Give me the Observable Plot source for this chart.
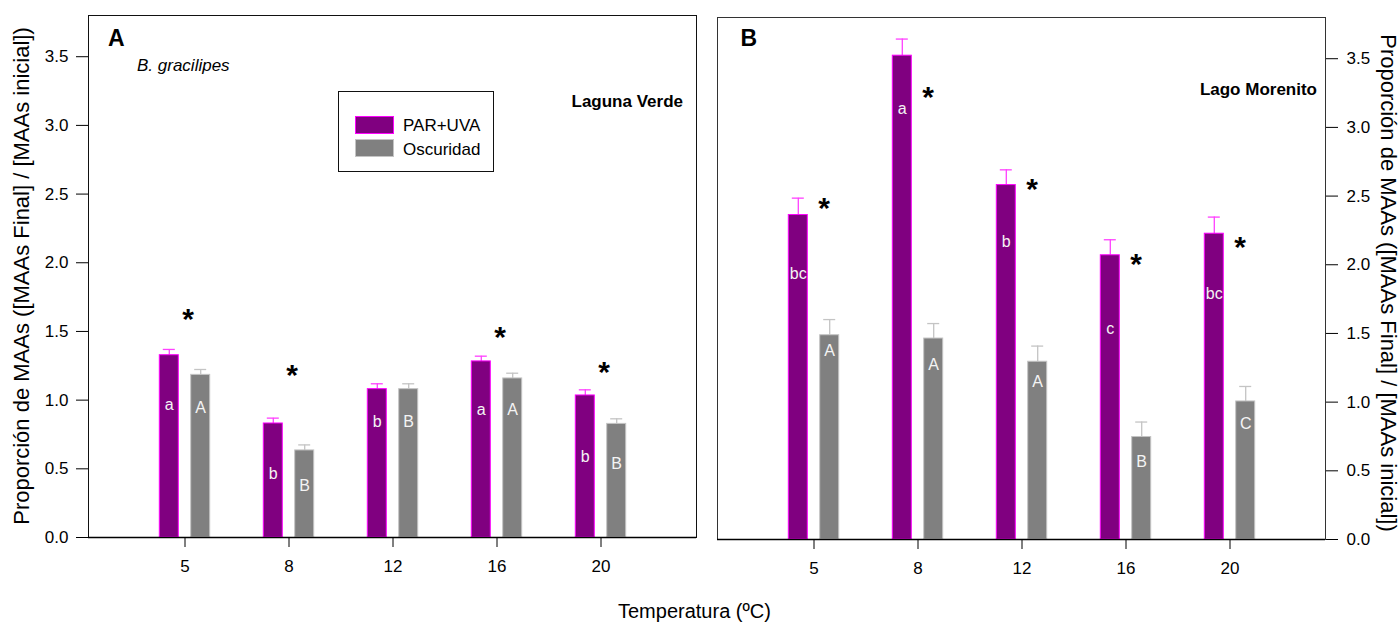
<!DOCTYPE html>
<html><head><meta charset="utf-8">
<script src="https://cdn.jsdelivr.net/npm/d3@7"></script>
<script src="https://cdn.jsdelivr.net/npm/@observablehq/plot@0.6"></script>
<style>
body{margin:0;background:#fff;}
#wrap{position:relative;width:1399px;height:624px;overflow:hidden;font-family:"Liberation Sans",Arial,sans-serif;color:#000;background:#fff;}
.t{position:absolute;white-space:nowrap;line-height:1;}
#wrap svg{position:absolute;top:0;overflow:visible;}
.sw{position:absolute;box-sizing:border-box;}
</style></head><body><div id="wrap"></div>
<script>
// ---- data ----
const temps = ["5", "8", "12", "16", "20"];
const yTicks = [0, 0.5, 1, 1.5, 2, 2.5, 3, 3.5];
const seriesNames = ["PAR+UVA", "Oscuridad"];

// Panel A – Laguna Verde
const parA = [1.327, 0.83, 1.08, 1.282, 1.034];
const parAErr = [0.042, 0.039, 0.039, 0.038, 0.041];
const parALetters = ["a", "b", "b", "a", "b"];
const parALabelY = [0.963, 0.466, 0.845, 0.927, 0.587];
const oscA = [1.184, 0.634, 1.08, 1.158, 0.827];
const oscAErr = [0.039, 0.04, 0.039, 0.038, 0.037];
const oscALetters = ["A", "B", "B", "A", "B"];
const oscALabelY = [0.947, 0.379, 0.845, 0.927, 0.539];
const starsATemps = ["5", "8", "16", "20"];
const starsAY = [1.636, 1.228, 1.51, 1.252];

// Panel B – Lago Morenito
const parB = [2.362, 3.522, 2.58, 2.069, 2.226];
const parBErr = [0.123, 0.121, 0.111, 0.113, 0.121];
const parBLetters = ["bc", "a", "b", "c", "bc"];
const parBLabelY = [1.931, 3.137, 2.168, 1.533, 1.786];
const oscB = [1.487, 1.463, 1.294, 0.746, 1.005];
const oscBErr = [0.114, 0.109, 0.114, 0.109, 0.109];
const oscBLetters = ["A", "A", "A", "B", "C"];
const oscBLabelY = [1.374, 1.272, 1.148, 0.562, 0.845];
const starsBTemps = ["5", "8", "12", "16", "20"];
const starsBY = [2.464, 3.27, 2.602, 2.052, 2.178];

// ---- helpers ----
const rows = (vals, errs, letters, labelY) =>
  temps.map((t, i) => ({temp: t, value: vals[i], err: errs[i], letter: letters[i], labelY: labelY[i]}));
const starRows = (ts, ys) => ts.map((t, i) => ({temp: t, y: ys[i]}));

const PURPLE = "#800080", MAGENTA = "#ff00ff", ERRP = "#ff40ff";
const GRAY = "#808080", LGRAY = "#c4c4c4";
const OFF = 15.7;

function panel({par, osc, stars, width, height, marginLeft, marginRight, marginTop, marginBottom, anchor, frameStroke, starDx, tickPadY}) {
  const top = d => d.value + d.err;
  return Plot.plot({
    width, height, marginLeft, marginRight, marginTop, marginBottom,
    style: {fontFamily: "Liberation Sans, Arial, sans-serif", fontSize: "17px", background: "transparent", overflow: "visible", color: "black"},
    x: {type: "band", domain: temps, paddingInner: 0.819, paddingOuter: 0.809},
    y: {domain: [0, 3.8]},
    marks: [
      Plot.frame({stroke: frameStroke}),
      Plot.ruleX(par, {x: "temp", y1: "value", y2: top, stroke: ERRP, strokeWidth: 1.3, dx: -OFF}),
      Plot.tickY(par, {x: "temp", y: top, stroke: ERRP, strokeWidth: 1.3, dx: -OFF, insetLeft: 3.5, insetRight: 3.5}),
      Plot.ruleX(osc, {x: "temp", y1: "value", y2: top, stroke: LGRAY, strokeWidth: 1.3, dx: OFF}),
      Plot.tickY(osc, {x: "temp", y: top, stroke: LGRAY, strokeWidth: 1.3, dx: OFF, insetLeft: 3.5, insetRight: 3.5}),
      Plot.barY(par, {x: "temp", y: "value", fill: PURPLE, stroke: MAGENTA, strokeWidth: 1, dx: -OFF}),
      Plot.barY(osc, {x: "temp", y: "value", fill: GRAY, stroke: LGRAY, strokeWidth: 1, dx: OFF}),
      Plot.text(par, {x: "temp", y: "labelY", text: "letter", fill: "#f4f4f4", fontSize: 16, dx: -OFF}),
      Plot.text(osc, {x: "temp", y: "labelY", text: "letter", fill: "#f4f4f4", fontSize: 16, dx: OFF}),
      Plot.text(stars, {x: "temp", y: "y", text: () => "*", fontSize: 30, fontWeight: "bold", fill: "black", dx: starDx, dy: 7}),
      Plot.ruleY([0], {stroke: "black", strokeWidth: 1.5}),
      Plot.axisY({anchor, ticks: yTicks, tickFormat: d3.format(".1f"), tickSize: 12, tickPadding: tickPadY, label: null}),
      Plot.axisX({tickSize: 10, tickPadding: 12, label: null})
    ]
  });
}

const wrap = document.getElementById("wrap");

const plotA = panel({
  par: rows(parA, parAErr, parALetters, parALabelY),
  osc: rows(oscA, oscAErr, oscALetters, oscALabelY),
  stars: starRows(starsATemps, starsAY),
  width: 700, height: 590, marginLeft: 88, marginRight: 4, marginTop: 15, marginBottom: 53,
  anchor: "left", frameStroke: "#111", starDx: 3, tickPadY: 8
});
plotA.style.left = "0px";
wrap.appendChild(plotA);

const plotB = panel({
  par: rows(parB, parBErr, parBLetters, parBLabelY),
  osc: rows(oscB, oscBErr, oscBLetters, oscBLabelY),
  stars: starRows(starsBTemps, starsBY),
  width: 699, height: 592, marginLeft: 17, marginRight: 74, marginTop: 17, marginBottom: 53,
  anchor: "right", frameStroke: "#333", starDx: 10, tickPadY: 9
});
plotB.style.left = "700px";
wrap.appendChild(plotB);

// ---- text annotations ----
function txt(str, {left, right, baseline, size, weight = "normal", style = "normal"}) {
  const d = document.createElement("div");
  d.className = "t";
  d.textContent = str;
  d.style.fontSize = size + "px";
  d.style.fontWeight = weight;
  d.style.fontStyle = style;
  d.style.top = (baseline - 0.8465 * size) + "px";
  if (left != null) d.style.left = left + "px";
  if (right != null) d.style.right = (1399 - right) + "px";
  wrap.appendChild(d);
  return d;
}
function rotTxt(str, {cx, cy, size, angle}) {
  const d = document.createElement("div");
  d.className = "t";
  d.textContent = str;
  d.style.fontSize = size + "px";
  d.style.left = cx + "px";
  d.style.top = cy + "px";
  d.style.transform = `translate(-50%,-50%) rotate(${angle}deg)`;
  wrap.appendChild(d);
  return d;
}
function box(left, top, w, h, fill, stroke) {
  const d = document.createElement("div");
  d.className = "sw";
  Object.assign(d.style, {left: left + "px", top: top + "px", width: w + "px", height: h + "px", background: fill, border: `1px solid ${stroke}`});
  wrap.appendChild(d);
}

txt("A", {left: 108, baseline: 46.7, size: 23, weight: "bold"});
txt("B. gracilipes", {left: 137, baseline: 71.7, size: 17, style: "italic"});
txt("Laguna Verde", {right: 683, baseline: 107, size: 17, weight: "bold"});
txt("B", {left: 740.5, baseline: 46.7, size: 23, weight: "bold"});
txt("Lago Morenito", {right: 1317, baseline: 95, size: 17, weight: "bold"});

// legend
box(337.5, 91, 156, 81, "transparent", "#111");
box(355, 115.5, 39, 18, PURPLE, MAGENTA);
box(355, 139, 39, 18, GRAY, LGRAY);
txt(seriesNames[0], {left: 403, baseline: 131.5, size: 17});
txt(seriesNames[1], {left: 403, baseline: 155, size: 17});

const yLabel = "Proporción de MAAs ([MAAs Final] / [MAAs inicial])";
rotTxt(yLabel, {cx: 22, cy: 275.5, size: 22, angle: -90});
rotTxt(yLabel, {cx: 1387.5, cy: 283, size: 22, angle: 90});
txt("Temperatura (ºC)", {left: 697.5 - 79.5, baseline: 617.5, size: 20});
</script>
</body></html>
